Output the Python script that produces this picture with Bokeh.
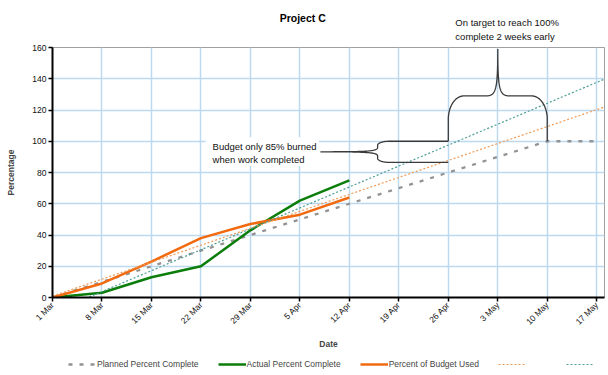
import numpy as np
import pandas as pd
from bokeh.plotting import figure
from bokeh.layouts import column
from bokeh.models import FixedTicker, Legend, LegendItem, Label, BoxAnnotation, Range1d
from bokeh.embed import file_html
from bokeh.resources import INLINE

# ---------------- data ----------------
start = pd.Timestamp("2009-03-01")
tick_dates = ["2009-03-01", "2009-03-08", "2009-03-15", "2009-03-22", "2009-03-29",
              "2009-04-05", "2009-04-12", "2009-04-19", "2009-04-26", "2009-05-03",
              "2009-05-10", "2009-05-17"]
tick_labels = ["1 Mar", "8 Mar", "15 Mar", "22 Mar", "29 Mar", "5 Apr", "12 Apr",
               "19 Apr", "26 Apr", "3 May", "10 May", "17 May"]
y_ticks = [0, 20, 40, 60, 80, 100, 120, 140, 160]

planned_dates = tick_dates
planned_pct = [0, 10, 20, 30, 40, 50, 60, 70, 80, 90, 100, 100]

actual_dates = tick_dates[:7]
actual_pct = [0, 3, 13, 20, 43, 62, 75]
budget_pct = [0, 9, 23, 38, 47, 53, 64]

trend_dates = ["2009-03-01", "2009-05-18"]
budget_trend = [0.9, 121.8]
actual_trend = [-9.6, 139.6]

title_text = "Project C"
x_title = "Date"
y_title = "Percentage"
series_names = ["Planned Percent Complete", "Actual Percent Complete", "Percent of Budget Used"]
note_target = ["On target to reach 100%", "complete 2 weeks early"]
note_budget = ["Budget only 85% burned", "when work completed"]


def days(ds):
    return [(pd.Timestamp(d) - start).days for d in ds]


tick_days = days(tick_dates)
X_END = 78.1          # right edge of plot area (days after 1 Mar)
FONT = "Liberation Sans"

# styles
S_PLAN = dict(line_color="#939393", line_width=2.3, line_dash="4 7")
S_ACT = dict(line_color="#0A7D0A", line_width=2.5)
S_BUD = dict(line_color="#F26A10", line_width=2.5)
S_TB = dict(line_color="#EE9A55", line_width=1.2, line_dash="2 2")
S_TA = dict(line_color="#4E9E96", line_width=1.2, line_dash="2 2")


def draw_series(fig):
    return [fig.line(days(planned_dates), planned_pct, **S_PLAN),
            fig.line(days(actual_dates), actual_pct, **S_ACT),
            fig.line(days(actual_dates), budget_pct, **S_BUD),
            fig.line(days(trend_dates), budget_trend, **S_TB),
            fig.line(days(trend_dates), actual_trend, **S_TA)]


# ================= main chart =================
x_range = Range1d(0, X_END)
p = figure(width=608, height=309, x_range=x_range, y_range=(0, 160),
           output_backend="svg", toolbar_location=None, title_location=None,
           min_border_left=52, min_border_right=4, min_border_top=4, min_border_bottom=54)
p.background_fill_color = "white"
p.border_fill_color = "white"
p.outline_line_color = "#A0A0A0"
p.outline_line_width = 1

p.xgrid.ticker = FixedTicker(ticks=tick_days)
p.ygrid.ticker = FixedTicker(ticks=y_ticks)
for g in (p.xgrid, p.ygrid):
    g.grid_line_color = "#BCD9F0"
    g.grid_line_width = 1.5

p.xaxis.ticker = FixedTicker(ticks=tick_days)
p.xaxis.major_label_overrides = {d: l for d, l in zip(tick_days, tick_labels)}
p.xaxis.major_label_orientation = np.pi / 4
p.yaxis.ticker = FixedTicker(ticks=y_ticks)
for ax in (p.xaxis, p.yaxis):
    ax.axis_line_color = "black"
    ax.axis_line_width = 2
    ax.major_tick_line_color = "black"
    ax.major_tick_line_width = 1.5
    ax.major_tick_out = 4
    ax.major_tick_in = 0
    ax.minor_tick_line_color = None
    ax.major_label_text_font = FONT
    ax.major_label_text_font_size = "8.5px"
    ax.major_label_text_color = "#111111"
    ax.major_label_standoff = 2
    ax.axis_label_text_font = FONT
    ax.axis_label_text_font_size = "8.5px"
    ax.axis_label_text_font_style = "bold"
p.xaxis.axis_label = x_title
p.yaxis.axis_label = y_title
p.xaxis.axis_label_standoff = 6
p.yaxis.axis_label_standoff = 13

draw_series(p)


# ---------------- braces ----------------
def half_brace(h, d1, dt, r, rv, r2, n=40):
    """local coords: u along base (0..h), v toward tip; from end (0,0) to tip (h, dt)"""
    us, vs = [0.0], [0.0]
    th = np.linspace(0, np.pi / 2, n)
    us += list(r * (1 - np.cos(th)))
    vs += list(d1 - rv + rv * np.sin(th))
    t = np.linspace(0, 1, n)
    P0 = np.array([h - r2, d1]); P1 = np.array([h - 0.15 * r2, d1])
    P2 = np.array([h, d1 + 0.12 * (dt - d1)]); P3 = np.array([h, dt])
    B = ((1 - t) ** 3)[:, None] * P0 + (3 * (1 - t) ** 2 * t)[:, None] * P1 + \
        (3 * (1 - t) * t ** 2)[:, None] * P2 + (t ** 3)[:, None] * P3
    us += list(B[:, 0]); vs += list(B[:, 1])
    return np.array(us), np.array(vs)


def full_brace(h, d1, dt, r, rv, r2):
    u, v = half_brace(h, d1, dt, r, rv, r2)
    return np.concatenate([u, 2 * h - u[::-1]]), np.concatenate([v, v[::-1]])


brace_color = "#3A3A3A"
bx0, bx1 = days(["2009-04-26", "2009-05-10"])
u, v = full_brace((bx1 - bx0) / 2, 29, 59, 2.2, 15, 1.7)
p.line(bx0 + u, 100 + v, line_color=brace_color, line_width=1.3)
u, v = full_brace((100 - 86.5) / 2, 10.0, 18.1, 2.6, 1.6, 2.9)
p.line(bx0 - v, 100 - u, line_color=brace_color, line_width=1.3)

p.add_layout(BoxAnnotation(left=21.66, right=37.66, top=102.6, bottom=84.1,
                           fill_color="white", fill_alpha=1, line_color=None))
for txt, yy in zip(note_budget, [96.9, 88.6]):
    p.add_layout(Label(x=22.65, y=yy, text=txt, text_font=FONT, text_font_size="9.5px",
                       text_baseline="middle", text_color="#111111"))

# ================= top strip: title + note (same x scale) =================
top = figure(width=608, height=43, x_range=x_range, y_range=(162.55, 189.96),
             output_backend="svg", toolbar_location=None, title_location=None,
             x_axis_location=None, y_axis_location=None,
             min_border_left=52, min_border_right=4, min_border_top=0, min_border_bottom=0)
top.outline_line_color = None
top.grid.visible = False
top.add_layout(Label(x=35.4, y=179.1, text=title_text, text_font=FONT,
                     text_font_size="10.5px", text_font_style="bold", text_align="center",
                     text_baseline="middle", text_color="black"))
for txt, yy in zip(note_target, [175.9, 167.0]):
    top.add_layout(Label(x=57.0, y=yy, text=txt, text_font=FONT, text_font_size="9.5px",
                         text_baseline="middle", text_color="#111111"))

# ================= bottom strip: legend (series drawn off-range, only keys show) =========
bot = figure(width=608, height=23, x_range=x_range, y_range=(-1000, -990),
             output_backend="svg", toolbar_location=None, title_location=None,
             x_axis_location=None, y_axis_location=None,
             min_border_left=52, min_border_right=4, min_border_top=0, min_border_bottom=0)
bot.outline_line_color = None
bot.grid.visible = False
keys = draw_series(bot)
legend = Legend(items=[LegendItem(label=series_names[0], renderers=[keys[0]]),
                       LegendItem(label=series_names[1], renderers=[keys[1]]),
                       LegendItem(label=series_names[2], renderers=[keys[2]]),
                       LegendItem(label=" ", renderers=[keys[3]]),
                       LegendItem(label=" ", renderers=[keys[4]])],
                orientation="horizontal", location=(16, 6),
                label_text_font=FONT, label_text_font_size="8.5px",
                glyph_width=28, glyph_height=10, label_standoff=1, spacing=19,
                padding=0, margin=0, border_line_color=None, background_fill_alpha=0,
                label_height=10)
bot.add_layout(legend, "center")

layout = column(top, p, bot, spacing=0)
open("out.html", "w").write(file_html(layout, INLINE))
